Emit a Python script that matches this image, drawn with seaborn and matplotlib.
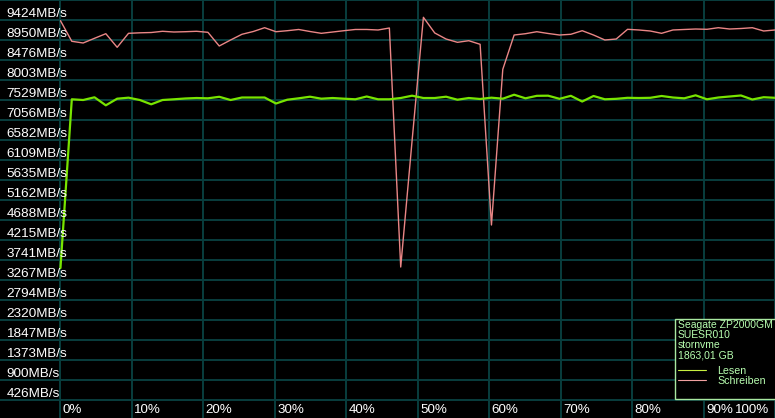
import numpy as np
import pandas as pd
import matplotlib
matplotlib.use("Agg")
import matplotlib.pyplot as plt
import matplotlib.transforms as mtrans
import seaborn as sns
from matplotlib.patches import Rectangle
from matplotlib.lines import Line2D

# ---------------- data ----------------
position_pct = np.linspace(0, 100, 64)

lesen = [3552, 7547, 7530, 7594, 7404, 7561, 7585, 7530, 7428, 7530,
         7547, 7566, 7577, 7570, 7606, 7530, 7589, 7589, 7589, 7447,
         7537, 7570, 7608, 7561, 7577, 7561, 7547, 7613, 7547, 7547,
         7577, 7632, 7577, 7577, 7608, 7537, 7577, 7554, 7585, 7561,
         7655, 7570, 7629, 7632, 7558, 7629, 7494, 7625, 7547, 7558,
         7582, 7577, 7582, 7625, 7589, 7570, 7641, 7547, 7589, 7613,
         7637, 7542, 7596, 7582]

schreiben = [9408, 8920, 8880, 8991, 9100, 8778, 9109, 9121, 9128, 9157,
             9140, 9147, 9157, 9133, 8809, 8951, 9086, 9152, 9242, 9147,
             9171, 9200, 9152, 9109, 9140, 9171, 9200, 9200, 9188, 9235,
             3575, 6560, 9488, 9117, 8974, 8896, 8934, 8849, 4570, 8257,
             9069, 9100, 9147, 9105, 9069, 9086, 9171, 9069, 8951, 8974,
             9204, 9188, 9164, 9109, 9188, 9200, 9211, 9204, 9242, 9211,
             9223, 9242, 9164, 9188]

y_tick_values = [426, 900, 1373, 1847, 2320, 2794, 3267, 3741, 4215, 4688,
                 5162, 5635, 6109, 6582, 7056, 7529, 8003, 8476, 8950, 9424]
y_top = 9898
x_tick_values = [0, 10, 20, 30, 40, 50, 60, 70, 80, 90, 100]

legend_info = ["Seagate ZP2000GM", "SUESR010", "stornvme", "1863,01 GB"]
series_names = ["Lesen", "Schreiben"]

# ---------------- figure ----------------
W, H = 775, 418
sns.set_style("dark")
plt.rcParams["font.family"] = ["Liberation Sans", "DejaVu Sans"]

fig = plt.figure(figsize=(W / 100, H / 100), dpi=100, facecolor="black")
ax = fig.add_axes([0, 0, 1, 1])
ax.set_facecolor("black")

px_per_pct = 7.15
x0_px = 60.5
ax.set_xlim(-x0_px / px_per_pct, (W - x0_px) / px_per_pct)
ax.set_ylim(0, y_top)

grid_color = "#093e3e"
ax.set_xticks(x_tick_values)
ax.set_yticks(y_tick_values + [y_top])
ax.set_xticklabels([])
ax.set_yticklabels([])
ax.tick_params(length=0)
ax.grid(True, color=grid_color, linewidth=1.4)
for s in ax.spines.values():
    s.set_visible(False)

df = pd.DataFrame({"pos": np.concatenate([position_pct, position_pct]),
                   "val": lesen + schreiben,
                   "serie": [series_names[0]] * len(lesen) + [series_names[1]] * len(schreiben)})

green = "#78e400"
pink = "#ea8686"
sns.lineplot(data=df[df.serie == "Schreiben"], x="pos", y="val", ax=ax,
             color=pink, linewidth=1.0, legend=False, zorder=3)
sns.lineplot(data=df[df.serie == "Lesen"], x="pos", y="val", ax=ax,
             color=green, linewidth=1.6, legend=False, zorder=3)
ax.set_xlabel("")
ax.set_ylabel("")

# y labels (baseline a few px above each gridline)
val_per_px = y_top / H
ytrans = mtrans.blended_transform_factory(ax.transAxes, ax.transData)
for v in y_tick_values:
    ax.text(6.5 / W, v + 3.3 * val_per_px, f"{v}MB/s", transform=ytrans,
            color="white", fontsize=9.7, ha="left", va="baseline", zorder=5)

# x labels
xtrans = mtrans.blended_transform_factory(ax.transData, ax.transAxes)
for t in x_tick_values:
    if t == 100:
        ax.text(769 / W, 5 / H, f"{t}%", transform=ax.transAxes, color="white",
                fontsize=9.6, ha="right", va="baseline", zorder=5)
    else:
        ax.text(t + 2.5 / px_per_pct, 5 / H, f"{t}%", transform=xtrans,
                color="white", fontsize=9.6, ha="left", va="baseline", zorder=5)

# legend box
def fx(x):
    return x / W

def fy(y):
    return 1 - y / H

txt_col = "#b8ffb0"
box = Rectangle((fx(675), fy(398.5)), fx(790) - fx(675), fy(318.5) - fy(398.5),
                transform=fig.transFigure, facecolor="black", edgecolor="#a8e8a0",
                linewidth=1.0, zorder=10)
fig.patches.append(box)
for i, line in enumerate(legend_info):
    fig.text(fx(677.5), fy(328.5 + 10 * i), line, color=txt_col, fontsize=7.5,
             ha="left", va="baseline", zorder=11)
leg_cols = ["#c8f040", "#f0a0a0"]
for i, (name, c) in enumerate(zip(series_names, leg_cols)):
    yl = 370 + 9.5 * i
    fig.lines.append(Line2D([fx(678), fx(706)], [fy(yl), fy(yl)], transform=fig.transFigure,
                            color=c, linewidth=0.8, zorder=11))
    fig.text(fx(717.5), fy(373.5 + 10 * i), name, color=txt_col, fontsize=7.7,
             ha="left", va="baseline", zorder=11)

fig.savefig("out.png", dpi=100, facecolor="black")
